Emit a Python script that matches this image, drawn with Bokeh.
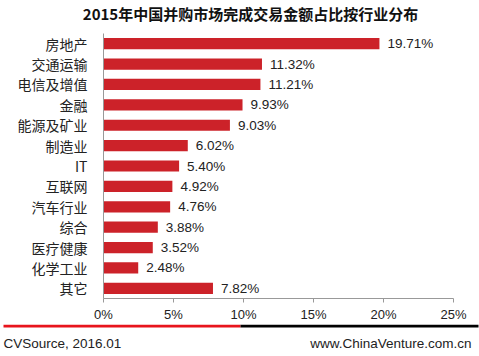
from bokeh.plotting import figure
from bokeh.layouts import column, row
from bokeh.models import ColumnDataSource, PrintfTickFormatter, FixedTicker, Range1d, FactorRange
from bokeh.core.properties import value
from bokeh.embed import file_html
from bokeh.resources import INLINE

categories = ["房地产", "交通运输", "电信及增值", "金融", "能源及矿业", "制造业", "IT",
              "互联网", "汽车行业", "综合", "医疗健康", "化学工业", "其它"]
shares = [19.71, 11.32, 11.21, 9.93, 9.03, 6.02, 5.40, 4.92, 4.76, 3.88, 3.52, 2.48, 7.82]
share_labels = ["%.2f%%" % v for v in shares]
x_ticks = [0, 5, 10, 15, 20, 25]

title_text = "2015年中国并购市场完成交易金额占比按行业分布"
source_text = "CVSource, 2016.01"
site_text = "www.ChinaVenture.com.cn"

CJK = "Noto Sans CJK SC"
LAT = "Liberation Sans"
RED = "#CC2229"


def strip(height):
    s = figure(width=479, height=height, output_backend="svg", toolbar_location=None,
               x_range=Range1d(0, 479), y_range=Range1d(height, 0),
               min_border=0, min_border_left=0, min_border_right=0,
               min_border_top=0, min_border_bottom=0)
    s.axis.visible = False
    s.grid.visible = False
    s.outline_line_color = None
    return s


# header strip with the title
h = strip(33)
h.text(x=[250], y=[13], text=[title_text], text_font=value(CJK), text_font_size="15px",
       text_font_style="bold", text_align="center", text_baseline="middle", text_color="#111111")

src = ColumnDataSource(dict(cat=categories, val=shares, lab=share_labels))

p = figure(width=479, height=291, output_backend="svg", toolbar_location=None,
           y_range=FactorRange(factors=categories[::-1]), x_range=Range1d(0, 25),
           min_border_left=103, min_border_right=26, min_border_top=0, min_border_bottom=25)
p.outline_line_color = None
p.xgrid.visible = False
p.ygrid.visible = False

p.hbar(y="cat", right="val", left=0, height=0.55, source=src, color=RED, line_color=None)
p.text(x="val", y="cat", text="lab", source=src, x_offset=8, text_baseline="middle",
       text_align="left", text_font=value(LAT), text_font_size="13.5px", text_color="#222222")

xa = p.xaxis[0]
xa.ticker = FixedTicker(ticks=x_ticks)
xa.formatter = PrintfTickFormatter(format="%d%%")
xa.axis_line_color = "#999999"
xa.major_tick_line_color = "#999999"
xa.major_tick_out = 4
xa.major_tick_in = 0
xa.minor_tick_line_color = None
xa.major_label_text_font = LAT
xa.major_label_text_font_size = "13px"
xa.major_label_text_color = "#222222"
xa.major_label_standoff = 4

ya = p.yaxis[0]
ya.axis_line_color = "#999999"
ya.major_tick_line_color = None
ya.minor_tick_line_color = None
ya.major_label_text_font = CJK
ya.major_label_text_font_size = "14px"
ya.major_label_text_color = "#222222"
ya.major_label_standoff = 10

# footer strip
f = strip(32)
f.segment(x0=[3], y0=[1.5], x1=[240], y1=[1.5], line_color="#E8141C", line_width=3)
f.segment(x0=[240], y0=[1.5], x1=[478], y1=[1.5], line_color="#000000", line_width=3)
f.text(x=[3], y=[19], text=[source_text], text_font=value(LAT), text_font_size="13.5px",
       text_align="left", text_baseline="middle", text_color="#222222")
f.text(x=[471], y=[19], text=[site_text], text_font=value(LAT), text_font_size="13.5px",
       text_align="right", text_baseline="middle", text_color="#222222")

layout = column(row(h), p, row(f), spacing=0)
open("out.html", "w").write(file_html(layout, INLINE))
